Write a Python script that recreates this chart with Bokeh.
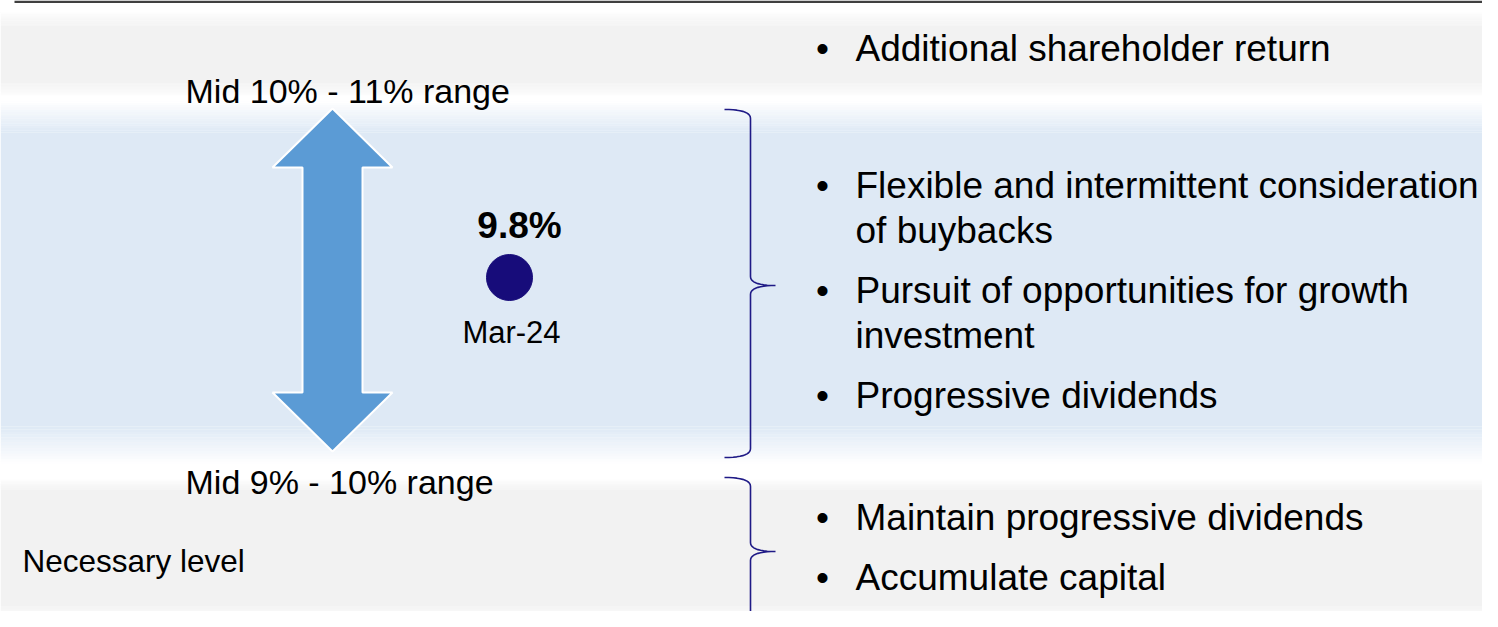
import numpy as np
from bokeh.plotting import figure
from bokeh.core.properties import value
from bokeh.embed import file_html
from bokeh.resources import INLINE

# ---------------- data ----------------
range_labels = ["Mid 10% - 11% range", "Mid 9% - 10% range"]
level_label = ["Necessary level"]
current_value = ["9.8%"]
current_date = ["Mar-24"]
top_bullets = ["Additional shareholder return"]
mid_bullets = [["Flexible and intermittent consideration", "of buybacks"],
               ["Pursuit of opportunities for growth", "investment"],
               ["Progressive dividends"]]
low_bullets = ["Maintain progressive dividends", "Accumulate capital"]

# ---------------- layout / style ----------------
FONT = value("Liberation Sans")
W, H = 1482, 611
p = figure(width=W, height=H, x_range=(0, 1482), y_range=(611, 0),
           output_backend="svg", toolbar_location=None, min_border=0)
p.axis.visible = False
p.grid.visible = False
p.outline_line_color = None
p.background_fill_color = "white"
p.border_fill_color = "white"

GRAY = "#f2f2f2"
BLUE = "#dee9f5"

def band(y0, y1, f0, f1, color):
    # full band between f0..f1, gradient fades from y0->f0 and f1->y1
    p.quad(left=0, right=1498, top=f0, bottom=f1, fill_color=color, line_color=None)
    n = 14
    for k in range(n):
        a = (k + 0.5) / n
        t0 = y0 + (f0 - y0) * k / n
        t1 = y0 + (f0 - y0) * (k + 1) / n
        p.quad(left=0, right=1498, top=t0, bottom=t1, fill_color=color,
               fill_alpha=a, line_color=None)
        b0 = f1 + (y1 - f1) * k / n
        b1 = f1 + (y1 - f1) * (k + 1) / n
        p.quad(left=0, right=1498, top=b0, bottom=b1, fill_color=color,
               fill_alpha=1 - a, line_color=None)

band(10, 97, 25, 83, GRAY)
band(100, 464, 132, 426, BLUE)
band(478, 617, 489, 606, GRAY)

# top rule
p.quad(left=14, right=1498, top=0, bottom=2.5, fill_color="#404040", line_color=None)

# double arrow
ax = 332
xs = [ax, ax + 60, ax + 30, ax + 30, ax + 60, ax, ax - 60, ax - 30, ax - 30, ax - 60]
ys = [108, 167, 167, 392, 392, 451, 392, 392, 167, 167]
p.patch(xs, ys, fill_color="#5b9bd5", line_color="white", line_width=2)

# current point
p.scatter([509], [277], size=46, marker="circle", fill_color="#170c7a", line_color="#170c7a")
p.text([519], [225], text=current_value, text_font=FONT, text_font_size="37px",
       text_font_style="bold", text_align="center", text_baseline="alphabetic", text_color="black")
p.text([511], [332], text=current_date, text_font=FONT, text_font_size="31px",
       text_align="center", text_baseline="alphabetic", text_color="black")

# range labels
p.text([185, 185], [90, 481], text=range_labels, text_font=FONT, text_font_size="34px",
       text_baseline="alphabetic", text_color="black")
p.text([22], [560], text=level_label, text_font=FONT, text_font_size="31.5px",
       text_baseline="alphabetic", text_color="black")

# bullets
bx, tx, fs = 822, 855, "37px"
lines_x, lines_y, lines_t = [], [], []
bul_y = []
def add_bullet(lines, y0):
    bul_y.append(y0)
    for i, t in enumerate(lines):
        lines_x.append(tx); lines_y.append(y0 + 45 * i); lines_t.append(t)

add_bullet(top_bullets, 48)
mid_y = [185, 290, 395]
for lines, y in zip(mid_bullets, mid_y):
    add_bullet(lines, y)
low_y = [517, 577]
for t, y in zip(low_bullets, low_y):
    add_bullet([t], y)

p.text(lines_x, lines_y, text=lines_t, text_font=FONT, text_font_size=fs,
       text_baseline="alphabetic", text_color="black")
p.text([bx] * len(bul_y), bul_y, text=["•"] * len(bul_y), text_font=FONT, text_font_size=fs,
       text_align="center", text_baseline="alphabetic", text_color="black")

# braces
def brace(y0, y1, ym, xe=724, xs_=750, xt=775, r=9):
    def qb(p0, c, p1, n=12):
        t = np.linspace(0, 1, n)[:, None]
        return (1 - t) ** 2 * np.array(p0) + 2 * (1 - t) * t * np.array(c) + t ** 2 * np.array(p1)
    segs = [
        qb((xe, y0), (xs_, y0), (xs_, y0 + r)),
        np.array([(xs_, y0 + r), (xs_, ym - r)]),
        qb((xs_, ym - r), (xs_, ym), (xt, ym)),
        qb((xt, ym), (xs_, ym), (xs_, ym + r)),
        np.array([(xs_, ym + r), (xs_, y1 - r)]),
        qb((xs_, y1 - r), (xs_, y1), (xe, y1)),
    ]
    pts = np.vstack(segs)
    p.line(pts[:, 0], pts[:, 1], line_color="#1f1a86", line_width=1.6)

brace(109, 457, 285)
brace(477, 625, 551)

open("out.html", "w").write(file_html(p, INLINE))
